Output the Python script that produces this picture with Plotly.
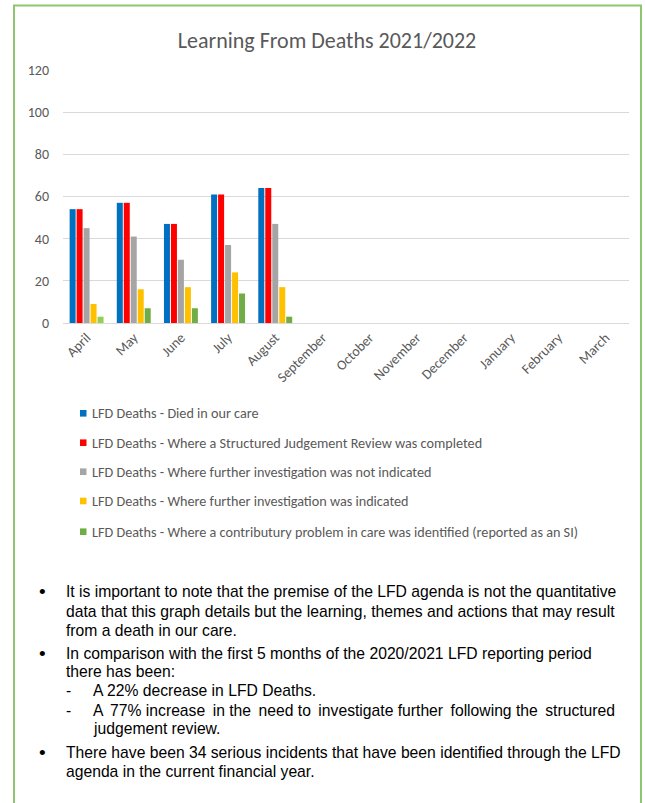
import plotly.graph_objects as go

# ---------------- data ----------------
months = ["April", "May", "June", "July", "August", "September", "October",
          "November", "December", "January", "February", "March"]
reported_months = ["April", "May", "June", "July", "August"]

series_names = [
    "LFD Deaths - Died in our care",
    "LFD Deaths - Where a Structured Judgement Review was completed",
    "LFD Deaths - Where further investigation was not indicated",
    "LFD Deaths - Where further investigation was indicated",
    "LFD Deaths - Where a contributury problem in care was identified (reported as an SI)",
]
died_in_care = [54, 57, 47, 61, 64]
sjr_completed = [54, 57, 47, 61, 64]
further_not_indicated = [45, 41, 30, 37, 47]
further_indicated = [9, 16, 17, 24, 17]
contributory_problem = [3, 7, 7, 14, 3]

y_tick_values = [0, 20, 40, 60, 80, 100, 120]
title_text = "Learning From Deaths 2021/2022"

# paragraph lines: (kind, text)
notes = [
    ("bullet", "It is important to note that the premise of the LFD agenda is not the quantitative"),
    ("cont", "data that this graph details but the learning, themes and actions that may result"),
    ("cont", "from a death in our care."),
    ("bullet", "In comparison with the first 5 months of the 2020/2021 LFD reporting period"),
    ("cont", "there has been:"),
    ("dash", "A 22% decrease in LFD Deaths."),
    ("dash_just", "A 77% increase in the need to investigate further following the structured"),
    ("subcont", "judgement review."),
    ("bullet", "There have been 34 serious incidents that have been identified through the LFD"),
    ("cont", "agenda in the current financial year."),
]

# ---------------- style ----------------
series_values = [died_in_care, sjr_completed, further_not_indicated,
                 further_indicated, contributory_problem]
series_colors = ["#0070C0", "#FF0000", "#A5A5A5", "#FFC000", "#70AD47"]
bar_colors = [
    series_colors[0], series_colors[1], series_colors[2], series_colors[3],
    ["#92D050", "#70AD47", "#70AD47", "#70AD47", "#70AD47"],
]

W, H = 645, 803
L, R, T, B = 63, 629, 70, 323   # plot area in pixels


def px(x):
    return (x - L) / (R - L)


def py(y):
    return (B - y) / (B - T)


def justify(text):
    # widen word gaps slightly (justified line in the source document)
    words = text.split(" ")
    out = words[0]
    for i, w in enumerate(words[1:]):
        out += (" \u2009" if i % 2 == 0 else " ") + w
    return out


chart_font = "Carlito, Lato, sans-serif"
grey = "#595959"

fig = go.Figure()
for name, vals, col in zip(series_names, series_values, bar_colors):
    fig.add_trace(go.Bar(x=reported_months, y=vals, name=name,
                         marker=dict(color=col, line=dict(width=0)),
                         showlegend=False))

fig.update_layout(
    width=W, height=H, autosize=False,
    margin=dict(l=L, r=W - R, t=T, b=H - B, pad=0),
    paper_bgcolor="white", plot_bgcolor="white",
    barmode="group", bargap=0.26, bargroupgap=0.14,
    title=dict(text=title_text, x=327 / W, xanchor="center",
               y=1 - 40 / H, yanchor="middle", yref="container",
               font=dict(family=chart_font, size=22, color=grey)),
    xaxis=dict(type="category", categoryorder="array", categoryarray=months,
               range=[-0.5, 11.5], tickangle=-45, showgrid=False,
               showline=True, linecolor="#D9D9D9", linewidth=1, ticks="",
               tickfont=dict(family=chart_font, size=14, color=grey)),
    yaxis=dict(range=[0, 120], tickvals=y_tick_values, showgrid=True,
               gridcolor="#D9D9D9", gridwidth=1, zeroline=False,
               showline=False, ticks="", ticklabelstandoff=13,
               tickfont=dict(family=chart_font, size=14, color=grey)),
)

shapes = []
annotations = []

# manual legend
legend_y = [413.3, 442.7, 471.7, 501, 531.7]
for name, col, ly in zip(series_names, series_colors, legend_y):
    shapes.append(dict(type="rect", xref="paper", yref="paper",
                       x0=px(80), x1=px(86.5), y0=py(ly - 3.3), y1=py(ly + 3.3),
                       fillcolor=col, line=dict(width=0)))
    annotations.append(dict(text=name, xref="paper", yref="paper",
                            x=px(90), y=py(ly), xanchor="left", yanchor="middle",
                            showarrow=False,
                            font=dict(family=chart_font, size=14.2, color=grey)))

# paragraph notes
note_y = [591.7, 611, 630, 653, 671.7, 690.7, 710, 728.5, 752.7, 771.7]
text_font = dict(family="Liberation Sans, Arial, sans-serif", size=15.7, color="black")
for (kind, txt), ny in zip(notes, note_y):
    if kind == "bullet":
        annotations.append(dict(text="\u2022", xref="paper", yref="paper",
                                x=px(42), y=py(ny), xanchor="center", yanchor="middle",
                                showarrow=False,
                                font=dict(family="Liberation Sans", size=19, color="black")))
    if kind in ("dash", "dash_just"):
        annotations.append(dict(text="-", xref="paper", yref="paper",
                                x=px(68.5), y=py(ny), xanchor="center", yanchor="middle",
                                showarrow=False, font=text_font))
    x0 = 63.5 if kind in ("bullet", "cont") else 91
    if kind == "dash_just":
        txt = justify(txt)
    annotations.append(dict(text=txt, xref="paper", yref="paper",
                            x=px(x0), y=py(ny), xanchor="left", yanchor="middle",
                            showarrow=False, font=text_font))

# green frame
frame = "#8DC570"
shapes.append(dict(type="line", xref="paper", yref="paper",
                   x0=px(14), x1=px(14), y0=py(5.5), y1=py(815),
                   line=dict(color=frame, width=2)))
shapes.append(dict(type="line", xref="paper", yref="paper",
                   x0=px(641), x1=px(641), y0=py(5.5), y1=py(815),
                   line=dict(color=frame, width=2)))
shapes.append(dict(type="line", xref="paper", yref="paper",
                   x0=px(13), x1=px(642), y0=py(5.5), y1=py(5.5),
                   line=dict(color=frame, width=2)))

fig.update_layout(shapes=shapes, annotations=annotations)

fig.write_html("out.html")
